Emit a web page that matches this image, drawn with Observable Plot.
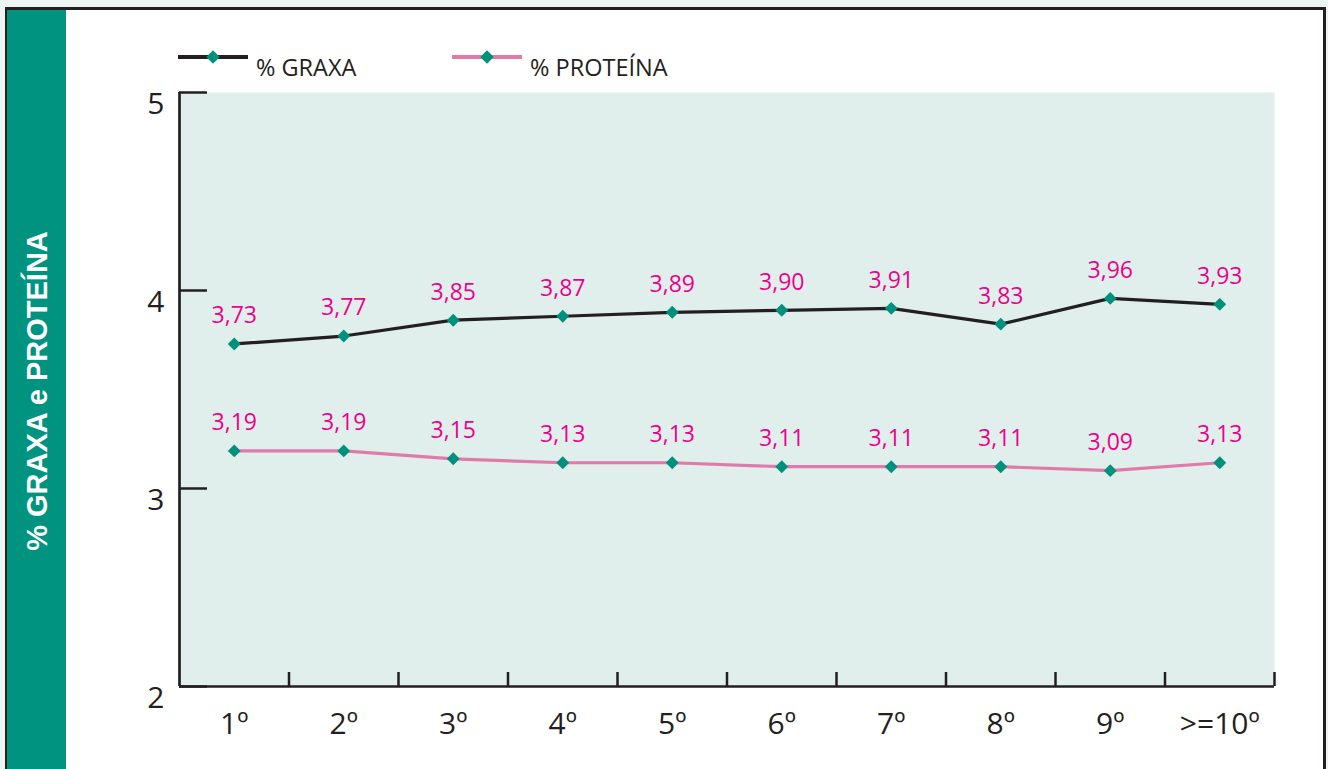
<!DOCTYPE html>
<html>
<head>
<meta charset="utf-8">
<script src="https://cdn.jsdelivr.net/npm/d3@7"></script>
<script src="https://cdn.jsdelivr.net/npm/@observablehq/plot@0.6"></script>
<style>
  html, body { margin: 0; padding: 0; }
  body { width: 1328px; height: 769px; overflow: hidden; background: #edf5f3; position: relative; font-family: "Open Sans", sans-serif; }
  #frame { position: absolute; left: 5px; top: 7px; width: 1316px; height: 820px; border-top: 3px solid #231f20; border-left: 2px solid #231f20; border-right: 3px solid #231f20; background: #ffffff; }
  #band { position: absolute; left: 0; top: 0; width: 59px; height: 100%; background: #009480; }
  #chart, #overlay { position: absolute; left: 0; top: 0; }
</style>
</head>
<body>
<div id="frame"><div id="band"></div></div>
<div id="chart"></div>
<svg id="overlay" width="1328" height="769"></svg>
<script>
// ---- data ----
const categories = ["1º", "2º", "3º", "4º", "5º", "6º", "7º", "8º", "9º", ">=10º"];
const graxa    = [3.73, 3.77, 3.85, 3.87, 3.89, 3.90, 3.91, 3.83, 3.96, 3.93];
const proteina = [3.19, 3.19, 3.15, 3.13, 3.13, 3.11, 3.11, 3.11, 3.09, 3.13];
const yTicks = [2, 3, 4, 5];
const seriesNames = ["% GRAXA", "% PROTEÍNA"];
const yTitle = "% GRAXA e PROTEÍNA";

// ---- styles ----
const ink = "#231f20";
const lineColors = ["#231f20", "#e07aa8"];
const markerColor = "#00917d";
const labelColor = "#ec008c";

const idx = categories.map((_, i) => i);
const bounds = categories.map((_, i) => i + 0.5);
const xDomain = [-0.5, categories.length - 0.5];
const fmt = d => d.toFixed(2).replace(".", ",");
const series = [graxa, proteina];

const marks = [
  Plot.frame({fill: "#e0efeb", stroke: "none"}),
  Plot.axisY({ticks: yTicks, tickSize: 28, dx: 28, tickFormat: () => "", stroke: ink, strokeWidth: 2.5, label: null}),
  Plot.axisY({ticks: yTicks, tickSize: 0, tickPadding: 15, dy: 12, fontSize: 30, fill: ink, tickFormat: d => String(d), label: null}),
  Plot.axisX({ticks: bounds, tickSize: 14, dy: -14, tickFormat: () => "", stroke: ink, strokeWidth: 2.5, label: null}),
  Plot.axisX({ticks: idx, tickSize: 0, tickPadding: 26, fontSize: 30, fill: ink, tickFormat: i => categories[i], label: null}),
  Plot.ruleX([xDomain[0]], {stroke: ink, strokeWidth: 2.7}),
  Plot.ruleY([yTicks[0]], {stroke: ink, strokeWidth: 2.7})
];
series.forEach((s, k) => {
  marks.push(Plot.line(s, {x: (d, i) => i, y: d => d, stroke: lineColors[k], strokeWidth: 3.2}));
});
series.forEach((s, k) => {
  marks.push(Plot.dot(s, {x: (d, i) => i, y: d => d, symbol: "diamond2", r: 5.8, fill: markerColor, stroke: "none"}));
  marks.push(Plot.text(s, {x: (d, i) => i, y: d => d, text: fmt, dy: -28, fill: labelColor, fontSize: 23}));
});

const chart = Plot.plot({
  width: 1328,
  height: 769,
  marginLeft: 179,
  marginRight: 54,
  marginTop: 92,
  marginBottom: 83,
  x: {type: "linear", domain: xDomain},
  y: {type: "linear", domain: [yTicks[0], yTicks[yTicks.length - 1]]},
  style: {background: "transparent", fontFamily: '"Open Sans", sans-serif', overflow: "visible"},
  marks
});
document.getElementById("chart").appendChild(chart);

// ---- legend + rotated axis title ----
const ov = d3.select("#overlay");
const legendX = [178, 452];
seriesNames.forEach((name, k) => {
  const x0 = legendX[k];
  const g = ov.append("g");
  g.append("line").attr("x1", x0).attr("x2", x0 + 70).attr("y1", 57).attr("y2", 57)
    .attr("stroke", lineColors[k]).attr("stroke-width", 4);
  g.append("path").attr("d", d3.symbol(d3.symbolDiamond2, 115)())
    .attr("transform", `translate(${x0 + 35},57)`).attr("fill", markerColor);
  g.append("text").attr("x", x0 + 78).attr("y", 76).attr("fill", ink)
    .style("font-family", '"Open Sans", sans-serif').style("font-size", "23.5px").text(name);
});
ov.append("text")
  .attr("transform", "translate(47,391) rotate(-90)")
  .attr("text-anchor", "middle")
  .attr("fill", "#ffffff")
  .style("font-family", '"Liberation Sans", Arial, sans-serif')
  .style("font-weight", "bold")
  .style("font-size", "29px")
  .text(yTitle);
</script>
</body>
</html>
